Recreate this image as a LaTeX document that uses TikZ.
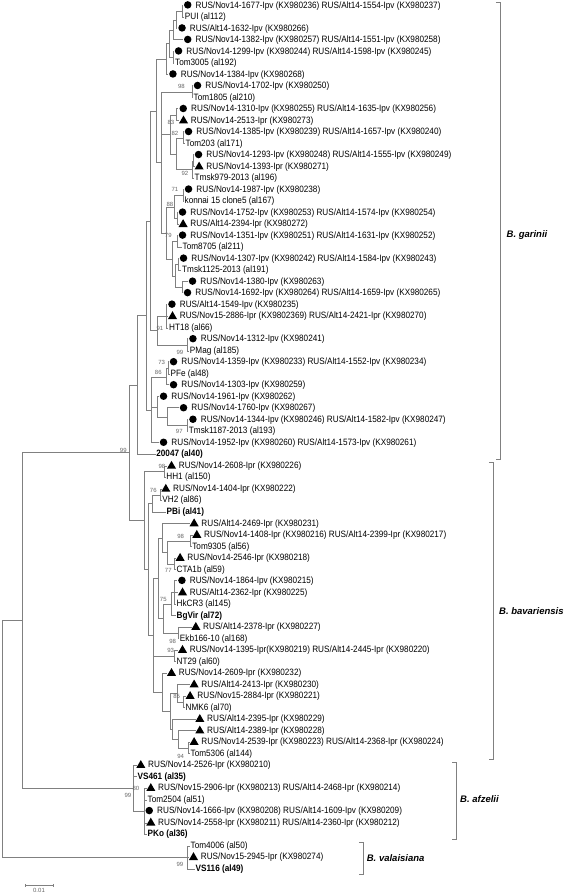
\documentclass[tikz,border=0pt]{standalone}
\usepackage{fontspec}
\setmainfont{Liberation Sans}
\newfontfamily\leaffont[FakeStretch=0.89]{Liberation Sans}
\usetikzlibrary{positioning,shapes.geometric}
\tikzset{
  br/.style={draw=black!50, line width=0.7pt},
  lbl/.style={anchor=west, inner xsep=0.5pt, inner ysep=0pt, font=\leaffont\fontsize{9.2}{10}\selectfont},
  bl/.style={lbl, font=\leaffont\fontsize{9.2}{10}\selectfont\bfseries},
  dotm/.style={circle, fill=black, inner sep=0pt, outer sep=1pt, minimum size=7.5pt, yshift=0.8pt},
  trim/.style={regular polygon, regular polygon sides=3, fill=black, inner sep=0pt, outer sep=1pt, minimum size=10.5pt},
  bs/.style={inner sep=0pt, text=black!60, font=\fontsize{6}{6}\selectfont},
  cl/.style={anchor=west, inner sep=0pt, font=\fontsize{9.5}{10}\selectfont\bfseries\itshape},
}
\begin{document}
\begin{tikzpicture}[x=1pt, y=-11.51pt]
\useasboundingbox (0,0.505) rectangle (567,78.18);
% leaves: B. garinii
\node[lbl] (t1) at (195,1) {RUS/Nov14-1677-Ipv (KX980236) RUS/Alt14-1554-Ipv (KX980237)}; \node[dotm, left=2.5pt of t1] (l1) {};
\node[lbl] (l2) at (184.3,2) {PUI (al112)};
\node[lbl] (t3) at (189.3,3) {RUS/Alt14-1632-Ipv (KX980266)}; \node[dotm, left=2.5pt of t3] (l3) {};
\node[lbl] (t4) at (195,4) {RUS/Nov14-1382-Ipv (KX980257) RUS/Alt14-1551-Ipv (KX980258)}; \node[dotm, left=2.5pt of t4] (l4) {};
\node[lbl] (t5) at (185.8,5) {RUS/Nov14-1299-Ipv (KX980244) RUS/Alt14-1598-Ipv (KX980245)}; \node[dotm, left=2.5pt of t5] (l5) {};
\node[lbl] (l6) at (174.5,6) {Tom3005 (al192)};
\node[lbl] (t7) at (180.2,7) {RUS/Nov14-1384-Ipv (KX980268)}; \node[dotm, left=2.5pt of t7] (l7) {};
\node[lbl] (t8) at (204.8,8) {RUS/Nov14-1702-Ipv (KX980250)}; \node[dotm, left=2.5pt of t8] (l8) {};
\node[lbl] (l9) at (193,9) {Tom1805 (al210)};
\node[lbl] (t10) at (190.5,10) {RUS/Nov14-1310-Ipv (KX980255) RUS/Alt14-1635-Ipv (KX980256)}; \node[dotm, left=2.5pt of t10] (l10) {};
\node[lbl] (t11) at (190.2,11) {RUS/Nov14-2513-Ipr (KX980273)}; \node[trim, left=2.5pt of t11] (l11) {};
\node[lbl] (t12) at (195.8,12) {RUS/Nov14-1385-Ipv (KX980239) RUS/Alt14-1657-Ipv (KX980240)}; \node[dotm, left=2.5pt of t12] (l12) {};
\node[lbl] (l13) at (185,13) {Tom203 (al171)};
\node[lbl] (t14) at (205.8,14) {RUS/Nov14-1293-Ipv (KX980248) RUS/Alt14-1555-Ipv (KX980249)}; \node[dotm, left=2.5pt of t14] (l14) {};
\node[lbl] (t15) at (205.8,15) {RUS/Nov14-1393-Ipr (KX980271)}; \node[trim, left=2.5pt of t15] (l15) {};
\node[lbl] (l16) at (194,16) {Tmsk979-2013 (al196)};
\node[lbl] (t17) at (195.8,17) {RUS/Nov14-1987-Ipv (KX980238)}; \node[dotm, left=2.5pt of t17] (l17) {};
\node[lbl] (l18) at (184,18) {konnai 15 clone5 (al167)};
\node[lbl] (t19) at (189.8,19) {RUS/Nov14-1752-Ipv (KX980253) RUS/Alt14-1574-Ipv (KX980254)}; \node[dotm, left=2.5pt of t19] (l19) {};
\node[lbl] (t20) at (189.8,20) {RUS/Alt14-2394-Ipr (KX980272)}; \node[trim, left=2.5pt of t20] (l20) {};
\node[lbl] (t21) at (189.8,21) {RUS/Nov14-1351-Ipv (KX980251) RUS/Alt14-1631-Ipv (KX980252)}; \node[dotm, left=2.5pt of t21] (l21) {};
\node[lbl] (l22) at (182,22) {Tom8705 (al211)};
\node[lbl] (t23) at (190.8,23) {RUS/Nov14-1307-Ipv (KX980242) RUS/Alt14-1584-Ipv (KX980243)}; \node[dotm, left=2.5pt of t23] (l23) {};
\node[lbl] (l24) at (181.5,24) {Tmsk1125-2013 (al191)};
\node[lbl] (t25) at (199.8,25) {RUS/Nov14-1380-Ipv (KX980263)}; \node[dotm, left=2.5pt of t25] (l25) {};
\node[lbl] (t26) at (194.8,26) {RUS/Nov14-1692-Ipv (KX980264) RUS/Alt14-1659-Ipv (KX980265)}; \node[dotm, left=2.5pt of t26] (l26) {};
\node[lbl] (t27) at (179.2,27) {RUS/Alt14-1549-Ipv (KX980235)}; \node[dotm, left=2.5pt of t27] (l27) {};
\node[lbl] (t28) at (179.2,28) {RUS/Nov15-2886-Ipr (KX9802369) RUS/Alt14-2421-Ipr (KX980270)}; \node[trim, left=2.5pt of t28] (l28) {};
\node[lbl] (l29) at (168.5,29) {HT18 (al66)};
\node[lbl] (t30) at (200.2,30) {RUS/Nov14-1312-Ipv (KX980241)}; \node[dotm, left=2.5pt of t30] (l30) {};
\node[lbl] (l31) at (189.3,31) {PMag (al185)};
\node[lbl] (t32) at (180.8,32) {RUS/Nov14-1359-Ipv (KX980233) RUS/Alt14-1552-Ipv (KX980234)}; \node[dotm, left=2.5pt of t32] (l32) {};
\node[lbl] (l33) at (170,33) {PFe (al48)};
\node[lbl] (t34) at (180.8,34) {RUS/Nov14-1303-Ipv (KX980259)}; \node[dotm, left=2.5pt of t34] (l34) {};
\node[lbl] (t35) at (170.8,35) {RUS/Nov14-1961-Ipv (KX980262)}; \node[dotm, left=2.5pt of t35] (l35) {};
\node[lbl] (t36) at (190.8,36) {RUS/Nov14-1760-Ipv (KX980267)}; \node[dotm, left=2.5pt of t36] (l36) {};
\node[lbl] (t37) at (200.2,37) {RUS/Nov14-1344-Ipv (KX980246) RUS/Alt14-1582-Ipv (KX980247)}; \node[dotm, left=2.5pt of t37] (l37) {};
\node[lbl] (l38) at (188.3,38) {Tmsk1187-2013 (al193)};
\node[lbl] (t39) at (170.8,39) {RUS/Nov14-1952-Ipv (KX980260) RUS/Alt14-1573-Ipv (KX980261)}; \node[dotm, left=2.5pt of t39] (l39) {};
\node[bl] (l40) at (155.7,40) {20047 (al40)};
% leaves: B. bavariensis
\node[lbl] (t41) at (178.2,41) {RUS/Nov14-2608-Ipr (KX980226)}; \node[trim, left=2.5pt of t41] (l41) {};
\node[lbl] (l42) at (165.7,42) {HH1 (al150)};
\node[lbl] (t43) at (172.5,43) {RUS/Nov14-1404-Ipr (KX980222)}; \node[trim, left=2.5pt of t43] (l43) {};
\node[lbl] (l44) at (161.7,44) {VH2 (al86)};
\node[bl] (l45) at (166,45) {PBi (al41)};
\node[lbl] (t46) at (200.8,46) {RUS/Alt14-2469-Ipr (KX980231)}; \node[trim, left=2.5pt of t46] (l46) {};
\node[lbl] (t47) at (203.5,47) {RUS/Nov14-1408-Ipr (KX980216) RUS/Alt14-2399-Ipr (KX980217)}; \node[trim, left=2.5pt of t47] (l47) {};
\node[lbl] (l48) at (191.7,48) {Tom9305 (al56)};
\node[lbl] (t49) at (186.8,49) {RUS/Nov14-2546-Ipr (KX980218)}; \node[trim, left=2.5pt of t49] (l49) {};
\node[lbl] (l50) at (176,50) {CTA1b (al59)};
\node[lbl] (t51) at (189.2,51) {RUS/Nov14-1864-Ipv (KX980215)}; \node[dotm, left=2.5pt of t51] (l51) {};
\node[lbl] (t52) at (189.2,52) {RUS/Alt14-2362-Ipr (KX980225)}; \node[trim, left=2.5pt of t52] (l52) {};
\node[lbl] (l53) at (176,53) {HkCR3 (al145)};
\node[bl] (l54) at (176,54) {BgVir (al72)};
\node[lbl] (t55) at (202.5,55) {RUS/Alt14-2378-Ipr (KX980227)}; \node[trim, left=2.5pt of t55] (l55) {};
\node[lbl] (l56) at (179.3,56) {Ekb166-10 (al168)};
\node[lbl] (t57) at (189.2,57) {RUS/Nov14-1395-Ipr(KX980219) RUS/Alt14-2445-Ipr (KX980220)}; \node[trim, left=2.5pt of t57] (l57) {};
\node[lbl] (l58) at (176,58) {NT29 (al60)};
\node[lbl] (t59) at (178.2,59) {RUS/Nov14-2609-Ipr (KX980232)}; \node[trim, left=2.5pt of t59] (l59) {};
\node[lbl] (t60) at (200.8,60) {RUS/Alt14-2413-Ipr (KX980230)}; \node[trim, left=2.5pt of t60] (l60) {};
\node[lbl] (t61) at (196.8,61) {RUS/Nov15-2884-Ipr (KX980221)}; \node[trim, left=2.5pt of t61] (l61) {};
\node[lbl] (l62) at (185,62) {NMK6 (al70)};
\node[lbl] (t63) at (206.5,63) {RUS/Alt14-2395-Ipr (KX980229)}; \node[trim, left=2.5pt of t63] (l63) {};
\node[lbl] (t64) at (206.5,64) {RUS/Alt14-2389-Ipr (KX980228)}; \node[trim, left=2.5pt of t64] (l64) {};
\node[lbl] (t65) at (200.8,65) {RUS/Nov14-2539-Ipr (KX980223) RUS/Alt14-2368-Ipr (KX980224)}; \node[trim, left=2.5pt of t65] (l65) {};
\node[lbl] (l66) at (190,66) {Tom5306 (al144)};
% leaves: B. afzelii, B. valaisiana
\node[lbl] (t67) at (147.5,67) {RUS/Nov14-2526-Ipr (KX980210)}; \node[trim, left=2.5pt of t67] (l67) {};
\node[bl] (l68) at (137,68) {VS461 (al35)};
\node[lbl] (t69) at (157.5,69) {RUS/Nov15-2906-Ipr (KX980213) RUS/Alt14-2468-Ipr (KX980214)}; \node[trim, left=2.5pt of t69] (l69) {};
\node[lbl] (l70) at (147,70) {Tom2504 (al51)};
\node[lbl] (t71) at (156.5,71) {RUS/Nov14-1666-Ipv (KX980208) RUS/Alt14-1609-Ipv (KX980209)}; \node[dotm, left=2.5pt of t71] (l71) {};
\node[lbl] (t72) at (157.5,72) {RUS/Nov14-2558-Ipr (KX980211) RUS/Alt14-2360-Ipr (KX980212)}; \node[trim, left=2.5pt of t72] (l72) {};
\node[bl] (l73) at (147,73) {PKo (al36)};
\node[lbl] (l74) at (190,74) {Tom4006 (al50)};
\node[lbl] (t75) at (200.2,75) {RUS/Nov15-2945-Ipr (KX980274)}; \node[trim, left=2.5pt of t75] (l75) {};
\node[bl] (l76) at (195,76) {VS116 (al49)};
% inner nodes
\coordinate (n1) at (182.3,1.5);
\coordinate (n2) at (176.5,2.25);
\coordinate (n3) at (173.5,3.125);
\coordinate (n5) at (173,5.5);
\coordinate (n4) at (169.5,4.31);
\coordinate (n6) at (166,5.66);
\coordinate (n7) at (192,8.5);
\coordinate (n8) at (176.5,10.5);
\coordinate (n9) at (183.5,12.5);
\coordinate (n10) at (193,14.5);
\coordinate (n11) at (192,15.25);
\coordinate (n12) at (176,13.875);
\coordinate (n13) at (170,12.19);
\coordinate (n14) at (183,17.5);
\coordinate (n17) at (177,19.5);
\coordinate (n16) at (174,18.5);
\coordinate (n15) at (177,21.5);
\coordinate (n18) at (178,23.5);
\coordinate (n19) at (182.5,25.5);
\coordinate (n20) at (175.5,24.5);
\coordinate (n21) at (172,23);
\coordinate (n22) at (166,20.75);
\coordinate (n23) at (161.5,14.625);
\coordinate (n24) at (156,10.14);
\coordinate (n25) at (166,28);
\coordinate (n26) at (187.5,30.5);
\coordinate (n27) at (157,29.25);
\coordinate (n28) at (150,19.7);
\coordinate (n29) at (168,32.5);
\coordinate (n30) at (166.5,33.25);
\coordinate (n31) at (187.3,37.5);
\coordinate (n32) at (167,36.75);
\coordinate (n33) at (157,35.875);
\coordinate (n34) at (151,36.125);
\coordinate (n35) at (146,27.9);
\coordinate (gar) at (137,33.95);
\coordinate (m1) at (164,41.5);
\coordinate (m2) at (160,43.5);
\coordinate (m3) at (152.3,44.25);
\coordinate (m4) at (190,47.5);
\coordinate (m5) at (174,49.5);
\coordinate (m6) at (167.3,48.5);
\coordinate (m7) at (162.7,47.25);
\coordinate (m8) at (174.3,52);
\coordinate (m9) at (171.7,53);
\coordinate (m10) at (178.3,55.5);
\coordinate (m11) at (163.3,54.25);
\coordinate (m12) at (158,50.75);
\coordinate (m13) at (174.3,57.5);
\coordinate (m14) at (183.3,61.5);
\coordinate (m15) at (177.3,60.75);
\coordinate (m16) at (188.3,65.5);
\coordinate (m17) at (178.3,64.75);
\coordinate (m18) at (172.7,63.875);
\coordinate (m19) at (170.5,62.31);
\coordinate (m20) at (162.7,60.66);
\coordinate (m21) at (153.3,55.7);
\coordinate (m22) at (148,49.98);
\coordinate (bav) at (144,45.74);
\coordinate (gb) at (129,39.85);
\coordinate (a80) at (144,71);
\coordinate (afz) at (133.3,69);
\coordinate (val) at (187.7,75);
\coordinate (nA) at (22.7,54.43);
\coordinate (root) at (2,64.7);
% branches
\draw[br] (n1) |- (l1.west) (n1) |- (l2.west);
\draw[br] (n2) |- (n1) (n2) |- (l3.west);
\draw[br] (n3) |- (n2) (n3) |- (l4.west);
\draw[br] (n5) |- (l5.west) (n5) |- (l6.west);
\draw[br] (n4) |- (n3) (n4) |- (n5);
\draw[br] (n6) |- (n4) (n6) |- (l7.west);
\draw[br] (n7) |- (l8.west) (n7) |- (l9.west);
\draw[br] (n8) |- (l10.west) (n8) |- (l11.west);
\draw[br] (n9) |- (l12.west) (n9) |- (l13.west);
\draw[br] (n10) |- (l14.west) (n10) |- (l15.west);
\draw[br] (n11) |- (n10) (n11) |- (l16.west);
\draw[br] (n12) |- (n9) (n12) |- (n11);
\draw[br] (n13) |- (n8) (n13) |- (n12);
\draw[br] (n14) |- (l17.west) (n14) |- (l18.west);
\draw[br] (n17) |- (l19.west) (n17) |- (l20.west);
\draw[br] (n16) |- (n14) (n16) |- (n17);
\draw[br] (n15) |- (l21.west) (n15) |- (l22.west);
\draw[br] (n18) |- (l23.west) (n18) |- (l24.west);
\draw[br] (n19) |- (l25.west) (n19) |- (l26.west);
\draw[br] (n20) |- (n18) (n20) |- (n19);
\draw[br] (n21) |- (n15) (n21) |- (n20);
\draw[br] (n22) |- (n16) (n22) |- (n21);
\draw[br] (n23) |- (n7) (n23) |- (n13) (n23) |- (n22);
\draw[br] (n24) |- (n6) (n24) |- (n23);
\draw[br] (n25) |- (l27.west) (n25) |- (l28.west) (n25) |- (l29.west);
\draw[br] (n26) |- (l30.west) (n26) |- (l31.west);
\draw[br] (n27) |- (n25) (n27) |- (n26);
\draw[br] (n28) |- (n24) (n28) |- (n27);
\draw[br] (n29) |- (l32.west) (n29) |- (l33.west);
\draw[br] (n30) |- (n29) (n30) |- (l34.west);
\draw[br] (n31) |- (l37.west) (n31) |- (l38.west);
\draw[br] (n32) |- (l36.west) (n32) |- (n31);
\draw[br] (n33) |- (l35.west) (n33) |- (n32);
\draw[br] (n34) |- (n30) (n34) |- (n33) (n34) |- (l39.west);
\draw[br] (n35) |- (n28) (n35) |- (n34);
\draw[br] (gar) |- (n35) (gar) |- (l40.west);
\draw[br] (m1) |- (l41.west) (m1) |- (l42.west);
\draw[br] (m2) |- (l43.west) (m2) |- (l44.west);
\draw[br] (m3) |- (m2) (m3) |- (l45.west);
\draw[br] (m4) |- (l47.west) (m4) |- (l48.west);
\draw[br] (m5) |- (l49.west) (m5) |- (l50.west);
\draw[br] (m6) |- (m4) (m6) |- (m5);
\draw[br] (m7) |- (l46.west) (m7) |- (m6);
\draw[br] (m8) |- (l51.west) (m8) |- (l52.west) (m8) |- (l53.west);
\draw[br] (m9) |- (m8) (m9) |- (l54.west);
\draw[br] (m10) |- (l55.west) (m10) |- (l56.west);
\draw[br] (m11) |- (m9) (m11) |- (m10);
\draw[br] (m12) |- (m7) (m12) |- (m11);
\draw[br] (m13) |- (l57.west) (m13) |- (l58.west);
\draw[br] (m14) |- (l61.west) (m14) |- (l62.west);
\draw[br] (m15) |- (l60.west) (m15) |- (m14);
\draw[br] (m16) |- (l65.west) (m16) |- (l66.west);
\draw[br] (m17) |- (l64.west) (m17) |- (m16);
\draw[br] (m18) |- (l63.west) (m18) |- (m17);
\draw[br] (m19) |- (m15) (m19) |- (m18);
\draw[br] (m20) |- (l59.west) (m20) |- (m19);
\draw[br] (m21) |- (m12) (m21) |- (m13) (m21) |- (m20);
\draw[br] (m22) |- (m3) (m22) |- (m21);
\draw[br] (bav) |- (m1) (bav) |- (m22);
\draw[br] (gb) |- (gar) (gb) |- (bav);
\draw[br] (a80) |- (l69.west) (a80) |- (l70.west) (a80) |- (l71.west) (a80) |- (l72.west) (a80) |- (l73.west);
\draw[br] (afz) |- (l67.west) (afz) |- (l68.west) (afz) |- (a80);
\draw[br] (val) |- (l74.west) (val) |- (l75.west) (val) |- (l76.west);
\draw[br] (nA) |- (gb) (nA) |- (afz);
\draw[br] (root) |- (nA) (root) |- (val);
% bootstrap values
\node[bs] (b1) at (181.5,8) {98};
\node[bs] (b2) at (171,11.1) {83};
\node[bs] (b3) at (175,12.1) {82};
\node[bs] (b4) at (185,15.6) {92};
\node[bs] (b5) at (175,17) {71};
\node[bs] (b6) at (170,18.3) {88};
\node[bs] (b7) at (168.3,21) {79};
\node[bs] (b8) at (160,29) {91};
\node[bs] (b9) at (180,31.1) {99};
\node[bs] (b10) at (161.7,32) {73};
\node[bs] (b11) at (158.3,32.9) {86};
\node[bs] (b12) at (179.3,38) {97};
\node[bs] (b13) at (123.3,39.6) {99};
\node[bs] (b14) at (162,41.05) {98};
\node[bs] (b15) at (153.3,43.1) {76};
\node[bs] (b16) at (180.7,47.1) {98};
\node[bs] (b17) at (168.3,50.1) {77};
\node[bs] (b18) at (163.3,52.6) {75};
\node[bs] (b19) at (172.7,56.2) {98};
\node[bs] (b20) at (170.7,57) {93};
\node[bs] (b21) at (176.7,61) {85};
\node[bs] (b22) at (180.7,66.2) {94};
\node[bs] (b23) at (136,69) {80};
\node[bs] (b24) at (128,69.6) {99};
\node[bs] (b25) at (180,75.6) {99};
% clade brackets
\draw[br] (496,0.72) -- (500,0.72) -- (500,40.4) -- (496,40.4);
\node[cl] (cg) at (506.5,20.9) {B. garinii};
\draw[br] (489,40.7) -- (493.3,40.7) -- (493.3,66.45) -- (489,66.45);
\node[cl] (cb) at (499,53.56) {B. bavariensis};
\draw[br] (452.5,66.77) -- (456.7,66.77) -- (456.7,73.4) -- (452.5,73.4);
\node[cl] (ca) at (460,69.95) {B. afzelii};
\draw[br] (359,73.72) -- (363.3,73.72) -- (363.3,76.44) -- (359,76.44);
\node[cl] (cv) at (366.7,75.02) {B. valaisiana};
% scale bar
\draw[br] (25,77.3) -- (25,77.6) (25,77.46) -- (53,77.46) (53,77.3) -- (53,77.6);
\node[bs] (sc) at (39,77.9) {0.01};
\end{tikzpicture}
\end{document}
